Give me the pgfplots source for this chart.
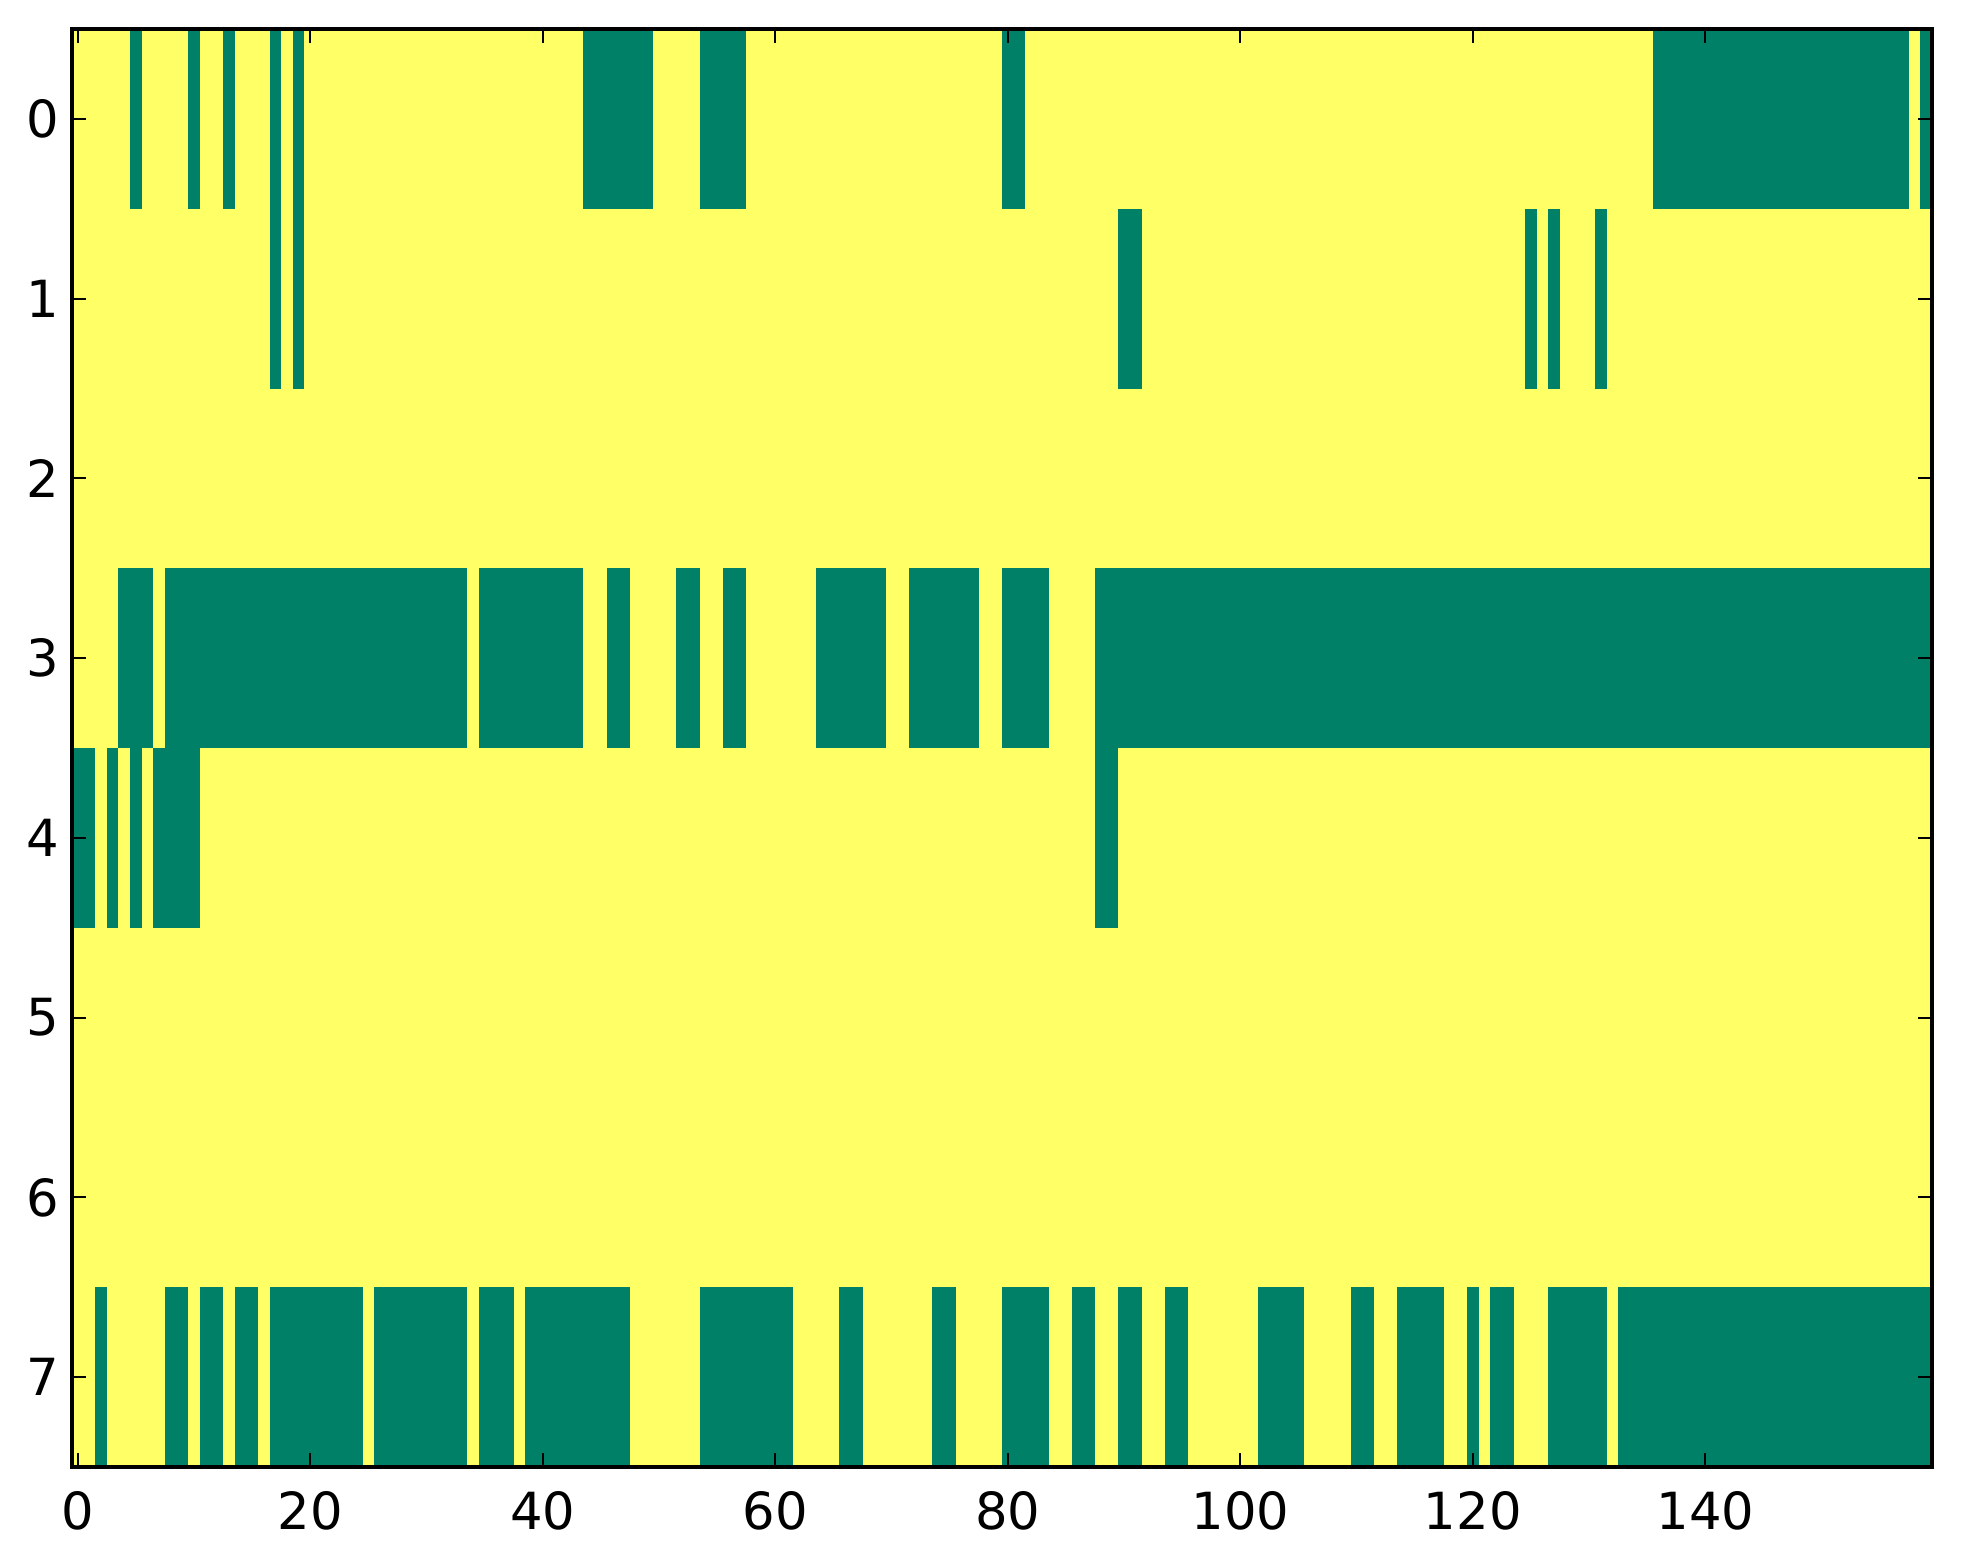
\documentclass[border=0pt]{standalone}
\usepackage{fontspec}
\setmainfont{DejaVu Sans}
\usepackage{pgfplots}
\pgfplotsset{compat=1.18}
\definecolor{cgreen}{RGB}{0,128,102}
\definecolor{cyellow}{RGB}{255,255,102}
% segment: x0 x1 y0 y1 (cell edges)
\newcommand{\seg}[4]{\addplot[draw=none, fill=cgreen, forget plot] coordinates {(#1,#3) (#2,#3) (#2,#4) (#1,#4)} -- cycle;}
\begin{document}
\begin{tikzpicture}
\path[use as bounding box] (-18pt,-24.25pt) rectangle (472.75pt,366.75pt);
\begin{axis}[
  at={(0,0)}, anchor=south west,
  scale only axis, width=465pt, height=359.5pt,
  xmin=-0.5, xmax=159.5, ymin=-0.5, ymax=7.5,
  y dir=reverse,
  axis on top,
  axis background/.style={fill=cyellow},
  axis line style={line width=0.85pt},
  xtick={0,20,...,140}, ytick={0,1,...,7},
  tick align=inside, xtick pos=both, ytick pos=both,
  major tick length=3.6pt,
  every tick/.style={black, line width=0.45pt},
  /pgf/number format/assume math mode=true,
  tick label style={font=\fontsize{12.8}{15}\selectfont},
  xticklabel style={anchor=north, inner sep=0pt, yshift=-5.8pt},
  yticklabel style={anchor=east, inner sep=0pt, xshift=-3pt},
]
% row 0
\seg{4.5}{5.5}{-0.5}{0.5}
\seg{9.5}{10.5}{-0.5}{0.5}
\seg{12.5}{13.5}{-0.5}{0.5}
\seg{16.5}{17.5}{-0.5}{1.5}
\seg{18.5}{19.5}{-0.5}{1.5}
\seg{43.5}{49.5}{-0.5}{0.5}
\seg{53.5}{57.5}{-0.5}{0.5}
\seg{79.5}{81.5}{-0.5}{0.5}
\seg{135.5}{157.5}{-0.5}{0.5}
\seg{158.5}{159.5}{-0.5}{0.5}
% row 1
\seg{89.5}{91.5}{0.5}{1.5}
\seg{124.5}{125.5}{0.5}{1.5}
\seg{126.5}{127.5}{0.5}{1.5}
\seg{130.5}{131.5}{0.5}{1.5}
% row 3
\seg{3.5}{6.5}{2.5}{3.5}
\seg{7.5}{33.5}{2.5}{3.5}
\seg{34.5}{43.5}{2.5}{3.5}
\seg{45.5}{47.5}{2.5}{3.5}
\seg{51.5}{53.5}{2.5}{3.5}
\seg{55.5}{57.5}{2.5}{3.5}
\seg{63.5}{69.5}{2.5}{3.5}
\seg{71.5}{77.5}{2.5}{3.5}
\seg{79.5}{83.5}{2.5}{3.5}
\seg{87.5}{159.5}{2.5}{3.5}
% row 4
\seg{-0.5}{1.5}{3.5}{4.5}
\seg{2.5}{3.5}{3.5}{4.5}
\seg{4.5}{5.5}{2.5}{4.5}
\seg{6.5}{7.5}{3.5}{4.5}
\seg{7.5}{10.5}{2.5}{4.5}
\seg{87.5}{89.5}{2.5}{4.5}
% row 7
\seg{1.5}{2.5}{6.5}{7.5}
\seg{7.5}{9.5}{6.5}{7.5}
\seg{10.5}{12.5}{6.5}{7.5}
\seg{13.5}{15.5}{6.5}{7.5}
\seg{16.5}{24.5}{6.5}{7.5}
\seg{25.5}{33.5}{6.5}{7.5}
\seg{34.5}{37.5}{6.5}{7.5}
\seg{38.5}{47.5}{6.5}{7.5}
\seg{53.5}{61.5}{6.5}{7.5}
\seg{65.5}{67.5}{6.5}{7.5}
\seg{73.5}{75.5}{6.5}{7.5}
\seg{79.5}{83.5}{6.5}{7.5}
\seg{85.5}{87.5}{6.5}{7.5}
\seg{89.5}{91.5}{6.5}{7.5}
\seg{93.5}{95.5}{6.5}{7.5}
\seg{101.5}{105.5}{6.5}{7.5}
\seg{109.5}{111.5}{6.5}{7.5}
\seg{113.5}{117.5}{6.5}{7.5}
\seg{119.5}{120.5}{6.5}{7.5}
\seg{121.5}{123.5}{6.5}{7.5}
\seg{126.5}{131.5}{6.5}{7.5}
\seg{132.5}{159.5}{6.5}{7.5}
\end{axis}
\end{tikzpicture}
\end{document}
